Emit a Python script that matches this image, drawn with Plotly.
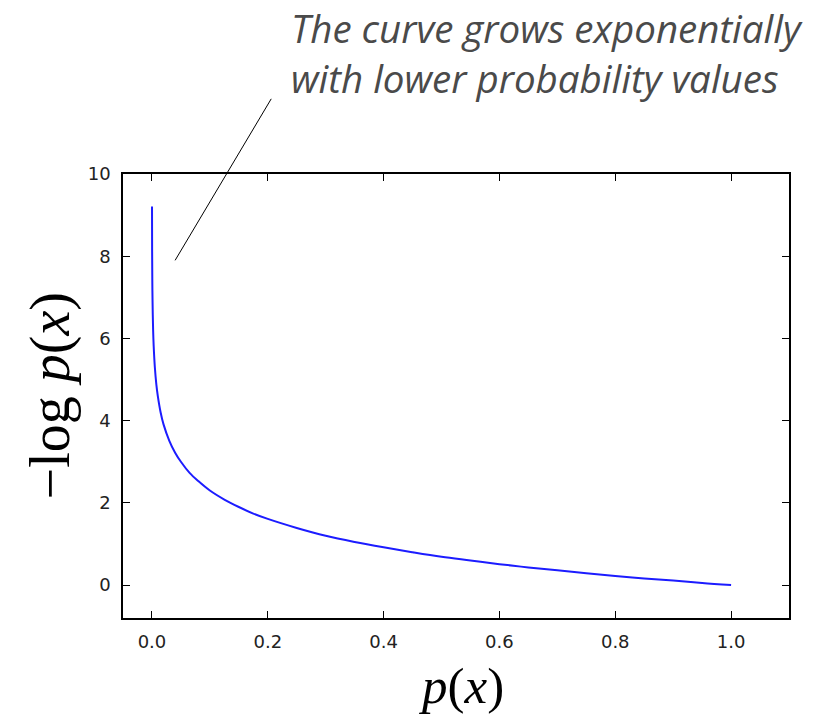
import plotly.graph_objects as go

# Points
p_values = [0.0001, 0.0003, 0.0006, 0.001, 0.002, 0.003, 0.005, 0.0075, 0.01, 0.015,
            0.02, 0.03, 0.04, 0.05, 0.065, 0.08, 0.1, 0.125, 0.15, 0.175, 0.2,
            0.25, 0.3, 0.35, 0.4, 0.45, 0.5, 0.55, 0.6, 0.65, 0.7, 0.75, 0.8,
            0.85, 0.9, 0.95, 1.0]
neg_log_p = [9.21, 8.11, 7.42, 6.91, 6.21, 5.81, 5.30, 4.89, 4.61, 4.20,
             3.91, 3.51, 3.22, 3.00, 2.73, 2.53, 2.30, 2.08, 1.90, 1.74, 1.61,
             1.39, 1.20, 1.05, 0.92, 0.80, 0.69, 0.60, 0.51, 0.43, 0.36, 0.29, 0.22,
             0.16, 0.11, 0.05, 0.0]

x_ticks = [0.0, 0.2, 0.4, 0.6, 0.8, 1.0]
x_tick_labels = ["0.0", "0.2", "0.4", "0.6", "0.8", "1.0"]
y_ticks = [0, 2, 4, 6, 8, 10]
y_tick_labels = ["0", "2", "4", "6", "8", "10"]

note_text = "The curve grows exponentially<br>with lower probability values"

fig = go.Figure()
fig.add_trace(go.Scatter(x=p_values, y=neg_log_p, mode="lines", line_shape="spline",
                         line=dict(color="#1c1cff", width=2), hoverinfo="skip"))

axis_common = dict(showline=True, linecolor="black", linewidth=1.6, mirror="ticks",
                   ticks="inside", ticklen=7, tickwidth=1, tickcolor="black",
                   showgrid=False, zeroline=False,
                   tickfont=dict(family="DejaVu Sans", size=18, color="#222"))

fig.update_xaxes(range=[-0.05, 1.1], tickvals=x_ticks, ticktext=x_tick_labels,
                 ticklabelstandoff=7, **axis_common)
fig.update_yaxes(range=[-0.8, 10], tickvals=y_ticks, ticktext=y_tick_labels,
                 ticklabelstandoff=7, **axis_common)

# pointer line from curve region to note
fig.add_annotation(x=0.04, y=7.9, xref="x", yref="y", text="", showarrow=True,
                   arrowhead=0, arrowwidth=1, arrowcolor="black",
                   ax=97, ay=-163, axref="pixel", ayref="pixel", standoff=0)

fig.add_annotation(x=0.249, y=1.392, xref="paper", yref="paper", text=note_text,
                   showarrow=False, xanchor="left", yanchor="top", align="left",
                   font=dict(family="Open Sans", size=38.5, color="#4a4a4a", style="italic"))

fig.add_annotation(x=0.509, y=-0.154, xref="paper", yref="paper",
                   text="<i>p</i>(<i>x</i>)", showarrow=False,
                   xanchor="center", yanchor="middle",
                   font=dict(family="Liberation Serif", size=51, color="black"))
fig.add_annotation(x=-0.109, y=0.500, xref="paper", yref="paper",
                   text="−log <i>p</i>(<i>x</i>)", showarrow=False, textangle=-90,
                   xanchor="center", yanchor="middle",
                   font=dict(family="Liberation Serif", size=56, color="black"))

fig.update_layout(width=823, height=716, showlegend=False,
                  paper_bgcolor="white", plot_bgcolor="white",
                  margin=dict(l=123, r=34, t=174, b=98))

fig.write_html("out.html", config={"displayModeBar": False},
               post_script="document.body.style.margin='0';document.body.style.overflow='hidden';")
